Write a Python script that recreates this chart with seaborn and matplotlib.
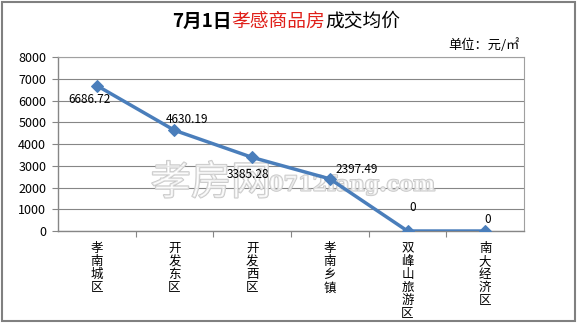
import matplotlib
matplotlib.use("Agg")
import matplotlib.pyplot as plt
import seaborn as sns
import pandas as pd
import matplotlib.patheffects as pe
from matplotlib.patches import Rectangle

categories = ["孝南城区", "开发东区", "开发西区", "孝南乡镇", "双峰山旅游区", "南大经济区"]
prices = [6686.72, 4630.19, 3385.28, 2397.49, 0, 0]
label_texts = ["6686.72", "4630.19", "3385.28", "2397.49", "0", "0"]
y_ticks = [0, 1000, 2000, 3000, 4000, 5000, 6000, 7000, 8000]

sns.set_theme(style="white")
plt.rcParams['font.family'] = ['Noto Sans CJK SC', 'DejaVu Sans']

df = pd.DataFrame({"cat": categories, "price": prices, "x": range(len(categories))})

fig = plt.figure(figsize=(5.78, 3.24), dpi=100)
fig.patch.set_facecolor("white")
# outer border
fig.patches.append(Rectangle((0.003, 0.008), 0.992, 0.986, transform=fig.transFigure,
                             fill=False, edgecolor="#808080", linewidth=1.5))

ax = fig.add_axes([0.1003, 0.287, 0.8063, 0.537])
line_color = "#4A7EBB"
sns.lineplot(data=df, x="x", y="price", ax=ax, color=line_color, linewidth=2.5,
             marker="D", markersize=6, markeredgecolor=line_color, zorder=3)

ax.set_xlim(-0.5, len(categories) - 0.5)
ax.set_ylim(0, 8000)
ax.set_yticks(y_ticks)
ax.set_yticklabels([str(v) for v in y_ticks], fontsize=9, color="black")
ax.yaxis.grid(True, color="#868686", linewidth=0.8)
ax.set_axisbelow(True)
ax.set_xlabel("")
ax.set_ylabel("")

# category tick marks at boundaries
ax.set_xticks([i + 0.5 for i in range(len(categories) - 1)], minor=False)
ax.set_xticklabels([])
ax.tick_params(axis="x", which="major", direction="out", length=4, color="#868686", width=0.8, bottom=True)
ax.tick_params(axis="y", direction="out", length=4.5, color="#868686", width=0.8, left=True, pad=4)
for i, c in enumerate(categories):
    ax.text(i, -0.065, "\n".join(c), transform=ax.get_xaxis_transform(), ha="center", va="top",
            fontsize=9, linespacing=1.0, color="black")

for s in ["top", "right"]:
    ax.spines[s].set_color("#A0A0A0")
    ax.spines[s].set_linewidth(0.8)
for s in ["left", "bottom"]:
    ax.spines[s].set_color("#868686")
    ax.spines[s].set_linewidth(1.0)

# watermark (behind line and data labels, semi-transparent fill)
wm_fill = (1, 1, 1, 0.55)
ax.text(0.365, 0.435, "孝房网", fontsize=29, color=wm_fill, ha="center", va="center",
        transform=fig.transFigure, clip_on=False, zorder=2,
        path_effects=[pe.withStroke(linewidth=1.2, foreground="#C8C8C8")])
ax.text(0.61, 0.43, "0712fang.com", fontsize=15, color=wm_fill, ha="center", va="center",
        fontweight="bold", family=["DejaVu Serif"], transform=fig.transFigure, clip_on=False, zorder=2,
        path_effects=[pe.withStroke(linewidth=1.2, foreground="#C8C8C8")])

# data labels (offsets in points)
offsets = [(-5, -10), (9, 8), (-3, -12), (19, 7), (4, 17), (2, 8)]
for i, (v, t) in enumerate(zip(prices, label_texts)):
    ax.annotate(t, (i, v), xytext=offsets[i], textcoords="offset points", ha="center", va="center",
                fontsize=8.5, color="black", zorder=6)

# title in three colored pieces
t1 = fig.text(0.298, 0.935, "7月1日", fontsize=13.5, fontweight="bold", color="black",
              ha="left", va="center")
t2 = ax.annotate("孝感商品房", xy=(1, 0.5), xycoords=t1, xytext=(0, 0), textcoords="offset points",
                 fontsize=13.5, color="#E0201A", ha="left", va="center", annotation_clip=False)
t3 = ax.annotate("成交均价", xy=(1, 0.5), xycoords=t2, xytext=(0, 0), textcoords="offset points",
                 fontsize=13.5, color="black", ha="left", va="center", annotation_clip=False)

fig.text(0.775, 0.862, "单位：元/㎡", fontsize=9.5, color="black", ha="left", va="center")

fig.savefig("out.png", dpi=100, facecolor="white")
